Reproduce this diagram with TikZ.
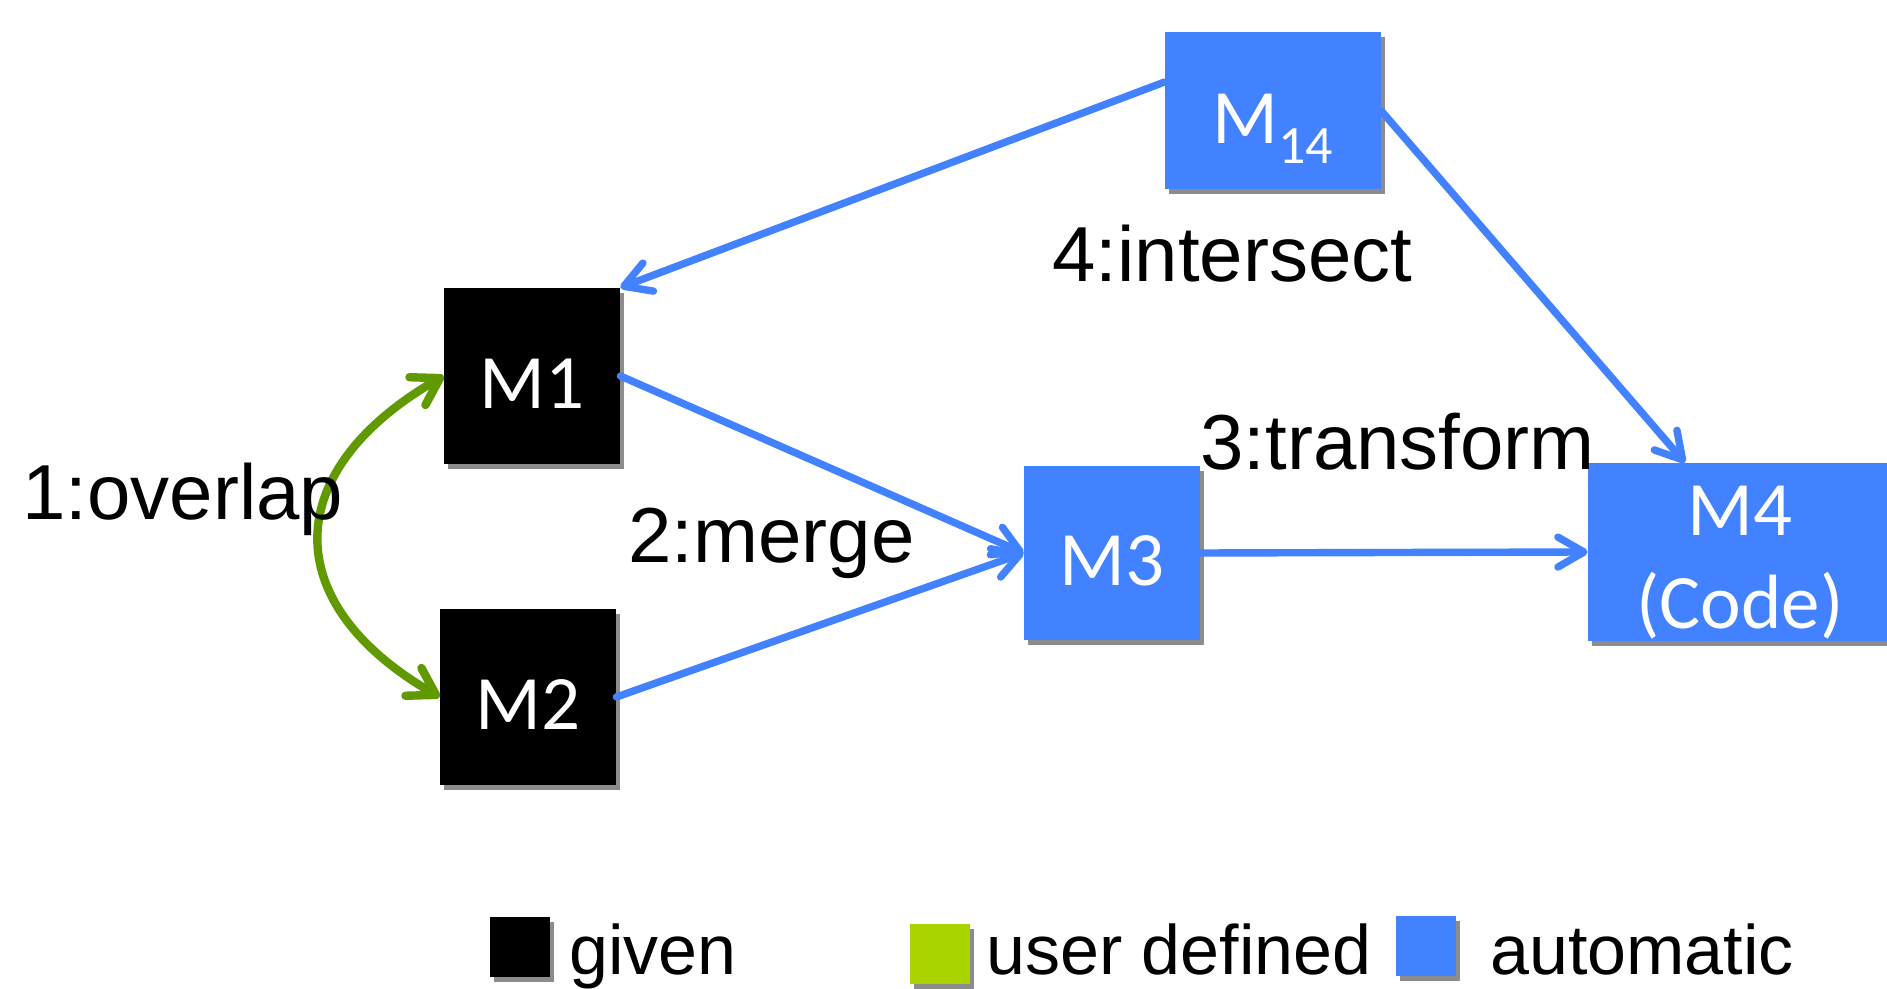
\documentclass[tikz,border=0pt]{standalone}
\usepackage{fontspec}
\setmainfont{Liberation Sans}
\newfontfamily\boxfont{Carlito}
\usetikzlibrary{arrows.meta, shadows}
\definecolor{autoblue}{RGB}{66,129,255}
\definecolor{userdark}{RGB}{96,153,0}
\definecolor{userlight}{RGB}{170,212,0}
\def\unit{0.5pt}
\tikzset{
    model/.style = {rectangle, inner sep=0pt, text=white, font=\boxfont\fontsize{38.5}{46.5}\selectfont,
        text height=33pt, text depth=0pt,
        drop shadow={shadow xshift=2pt, shadow yshift=-2.5pt, fill=black, opacity=0.45}},
    given/.style = {model, fill=black, minimum width=88pt, minimum height=88pt},
    automodel/.style = {model, fill=autoblue},
    flow/.style = {draw=autoblue, line width=3.7pt, line cap=round, -{Straight Barb[length=13pt, width=15pt, round]}},
    overlap/.style = {draw=userdark, line width=4.2pt, {Straight Barb[length=13pt, width=16pt, round]}-{Straight Barb[length=13pt, width=16pt, round]}},
    steptext/.style = {inner sep=0pt, anchor=base west, font=\fontsize{39}{46}\selectfont},
    legendbox/.style = {rectangle, inner sep=0pt, minimum size=30pt,
        drop shadow={shadow xshift=2pt, shadow yshift=-2.5pt, fill=black, opacity=0.45}},
    legendtext/.style = {inner sep=0pt, anchor=base west, font=\fontsize{35}{42}\selectfont}
}

\begin{document}
\begin{tikzpicture}[x=\unit, y=\unit]
        % fix the canvas
        \useasboundingbox (0,0) rectangle (1887,-989);

        % given models
        \node[given] (M1) at (532,-376) {M1};
        \node[given] (M2) at (528,-697) {M2};

        % automatic models
        \node[automodel, minimum width=88pt, minimum height=87pt] (M3) at (1112,-553) {M3};
        \node[automodel, minimum width=108pt, minimum height=78.5pt] (M14) at (1273,-111)
            {M\raisebox{-10pt}{\fontsize{27}{27}\selectfont 14}};
        \node[automodel, minimum width=152pt, minimum height=89pt, align=center, text height=77pt] (M4) at (1740,-552)
            {M4\\(Code)};

        % draw the operations
        \draw[flow] ([yshift=14.5pt]M14.west) -- (M1.north east);
        \draw[flow] (M14.east) -- ([xshift=-27.5pt]M4.north);
        \draw[flow] (M1.east) -- (M3.west);
        \draw[flow] (M2.east) -- (M3.west);
        \draw[flow] (M3.east) -- (M4.west);
        \draw[overlap] (M1.west) to[out=210, in=150, looseness=1.5] (M2.west);

        % step names
        \node[steptext] (overlapname) at (22,-520) {1:overlap};
        \node[steptext] (mergename) at (628,-563) {2:merge};
        \node[steptext] (transformname) at (1200,-470) {3:transform};
        \node[steptext] (intersectname) at (1052,-282) {4:intersect};

        % legend
        \node[legendbox, fill=black] (givenkey) at (520,-947) {};
        \node[legendtext] (giventext) at (569,-974) {given};
        \node[legendbox, fill=userlight] (userkey) at (940,-954) {};
        \node[legendtext] (usertext) at (986,-974) {user defined};
        \node[legendbox, fill=autoblue] (autokey) at (1426,-946) {};
        \node[legendtext] (autotext) at (1490,-974) {automatic};
\end{tikzpicture}
\end{document}
